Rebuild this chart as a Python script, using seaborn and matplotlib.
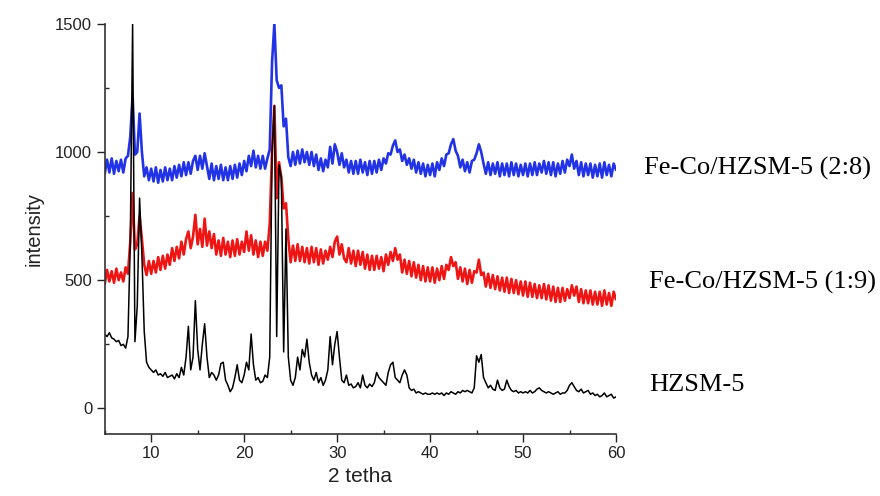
import numpy as np
import pandas as pd
import matplotlib
matplotlib.use("Agg")
import matplotlib.pyplot as plt
from matplotlib.ticker import MultipleLocator
import seaborn as sns

# 2 theta grid, 0.25 deg step from 5 to 60
twoTheta = np.arange(5, 60.001, 0.25)

# HZSM-5 (black), values, 4 per degree
hzsm5 = [
    290, 280, 295, 275,   270, 260, 265, 245,   250, 235, 280, 650,
    1500, 260, 400, 820,  600, 300, 180, 160,   150, 140, 150, 130,
    135, 125, 140, 120,   125, 130, 115, 135,   120, 160, 130, 200,
    320, 150, 200, 420,   230, 150, 250, 330,   200, 120, 140, 130,
    110, 130, 175, 180,   110, 90, 65, 80,     120, 170, 110, 100,
    130, 180, 150, 290,   170, 110, 120, 100,   105, 130, 120, 200,
    1000, 1180, 280, 950, 900, 220, 700, 200,   110, 90, 120, 200,
    150, 230, 200, 270,   180, 130, 110, 140,   100, 120, 90, 110,
    150, 280, 170, 250,   300, 200, 110, 100,   130, 90, 95, 80,
    85, 100, 80, 130,     90, 80, 95, 85,       100, 140, 120, 110,
    100, 90, 140, 170,    180, 120, 110, 100,   130, 150, 130, 80,
    70, 75, 60, 65,       60, 55, 60, 55,       55, 60, 55, 60,
    55, 60, 50, 60,       55, 65, 60, 55,       65, 60, 70, 65,
    70, 65, 60, 80,       205, 180, 210, 120,   100, 80, 90, 75,
    70, 110, 80, 70,      75, 110, 85, 70,      65, 70, 60, 65,
    60, 65, 60, 70,       60, 65, 75, 80,       70, 65, 60, 65,
    60, 55, 60, 65,       55, 60, 60, 70,       90, 100, 85, 70,
    65, 75, 60, 65,       70, 55, 60, 50,       55, 45, 50, 60,
    45, 50, 55, 40,       45,
]

# Fe-Co/HZSM-5 (1:9), red
feco19 = [
    485, 540, 495, 535,   490, 545, 500, 530,   495, 550, 525, 650,
    840, 620, 640, 750,   660, 560, 520, 575,   525, 575, 530, 590,
    540, 595, 545, 600,   560, 625, 575, 630,   585, 650, 600, 660,
    690, 625, 670, 755,   640, 700, 630, 740,   635, 690, 625, 680,
    600, 655, 595, 665,   600, 650, 590, 655,   595, 660, 600, 650,
    610, 690, 615, 675,   600, 655, 590, 650,   595, 650, 615, 720,
    1000, 1180, 820, 960, 900, 780, 800, 660,   570, 635, 575, 640,
    575, 630, 570, 625,   565, 630, 570, 625,   560, 620, 565, 615,
    580, 630, 590, 650,   670, 600, 640, 585,   570, 625, 565, 615,
    555, 615, 560, 610,   545, 600, 540, 595,   540, 595, 545, 590,
    535, 600, 560, 610,   575, 625, 580, 600,   530, 580, 525, 575,
    515, 570, 510, 560,   500, 555, 495, 550,   495, 550, 490, 545,
    500, 555, 505, 560,   540, 590, 555, 570,   505, 550, 495, 545,
    485, 540, 490, 535,   530, 580, 520, 530,   475, 525, 470, 520,
    465, 515, 460, 510,   455, 510, 450, 505,   450, 500, 445, 495,
    440, 495, 435, 490,   435, 485, 430, 480,   430, 485, 425, 480,
    420, 475, 415, 470,   415, 470, 420, 465,   430, 480, 440, 475,
    415, 465, 410, 460,   410, 460, 405, 455,   405, 455, 400, 460,
    405, 450, 400, 455,   425,
]

# Fe-Co/HZSM-5 (2:8), blue
feco28 = [
    915, 970, 920, 975,   915, 965, 925, 970,   920, 975, 985, 1060,
    1220, 990, 1000, 1150, 1000, 905, 940, 890, 935, 885, 940, 880,
    930, 885, 940, 890,   935, 890, 945, 900,   950, 905, 960, 910,
    960, 915, 965, 985,   930, 985, 935, 995,   945, 895, 955, 890,
    945, 895, 950, 890,   940, 890, 945, 895,   950, 900, 955, 910,
    965, 925, 985, 945,   1005, 940, 985, 935,  985, 935, 975, 1010,
    1350, 1500, 1280, 1250, 1260, 1100, 1130, 980, 945, 1000, 950, 1005,
    955, 1010, 960, 1000, 950, 1000, 945, 990,  930, 975, 925, 970,
    940, 1020, 955, 1030, 1000, 950, 995, 940,  970, 920, 965, 915,
    965, 915, 970, 920,   960, 910, 965, 915,   965, 920, 970, 930,
    975, 955, 995, 990,   1025, 1045, 1000, 1010, 965, 990, 950, 975,
    935, 970, 920, 960,   915, 955, 905, 950,   910, 955, 905, 960,
    930, 975, 945, 990,   995, 1030, 1050, 1005, 985, 940, 970, 925,
    960, 920, 965, 970,   995, 1030, 1000, 955, 915, 960, 910, 955,
    915, 960, 905, 955,   910, 955, 905, 960,   910, 955, 905, 950,
    910, 955, 905, 955,   910, 960, 910, 955,   920, 965, 915, 960,
    910, 960, 905, 955,   915, 965, 920, 970,   945, 990, 935, 965,
    910, 960, 905, 955,   910, 955, 900, 950,   905, 955, 900, 960,
    910, 950, 905, 955,   930,
]

sampleNames = ["HZSM-5", "Fe-Co/HZSM-5 (1:9)", "Fe-Co/HZSM-5 (2:8)"]
sampleColors = ["black", "#ee1515", "#2233e6"]
sampleWidths = [1.1, 1.9, 1.9]

frames = []
for name, values in zip(sampleNames, [hzsm5, feco19, feco28]):
    assert len(values) == len(twoTheta), (name, len(values))
    frames.append(pd.DataFrame({"twoTheta": twoTheta, "intensity": values, "sample": name}))
dfData = pd.concat(frames, ignore_index=True)

sns.set_style("ticks")
plt.rcParams['font.family'] = ['Liberation Sans', 'DejaVu Sans']

fig = plt.figure(figsize=(8.8, 4.96), dpi=100)
ax = fig.add_axes([0.119, 0.125, 0.581, 0.827])

# draw blue, red, then black on top
for name, color, lw in zip(sampleNames[::-1], sampleColors[::-1], sampleWidths[::-1]):
    sns.lineplot(data=dfData[dfData["sample"] == name], x="twoTheta", y="intensity",
                 color=color, linewidth=lw, estimator=None, sort=False, ax=ax)

ax.set_xlim(5, 60)
ax.set_ylim(-100, 1500)
ax.set_xticks([10, 20, 30, 40, 50, 60])
ax.set_yticks([0, 500, 1000, 1500])
ax.xaxis.set_minor_locator(MultipleLocator(5))
ax.yaxis.set_minor_locator(MultipleLocator(250))
ax.tick_params(axis='both', which='major', direction='out', length=6, width=1, labelsize=12, colors='#222222', pad=3)
ax.tick_params(axis='both', which='minor', direction='in', length=3, width=1)
ax.spines['right'].set_visible(False)
ax.spines['top'].set_visible(False)
for side in ['left', 'bottom']:
    ax.spines[side].set_linewidth(1.2)
    ax.spines[side].set_color('#333333')

ax.set_xlabel("2 tetha", fontsize=15, color='#222222', labelpad=4)
ax.set_ylabel("intensity", fontsize=14.5, color='#222222', labelpad=8)

# sample names to the right of the curves
labelPos = [(649, 385), (649, 282), (644, 168)]
for name, (px, py) in zip(sampleNames, labelPos):
    fig.text(px / 880, 1 - py / 496, name, fontsize=19, family='Liberation Serif',
             ha='left', va='center', color='black')

fig.savefig("out.png", dpi=100)
